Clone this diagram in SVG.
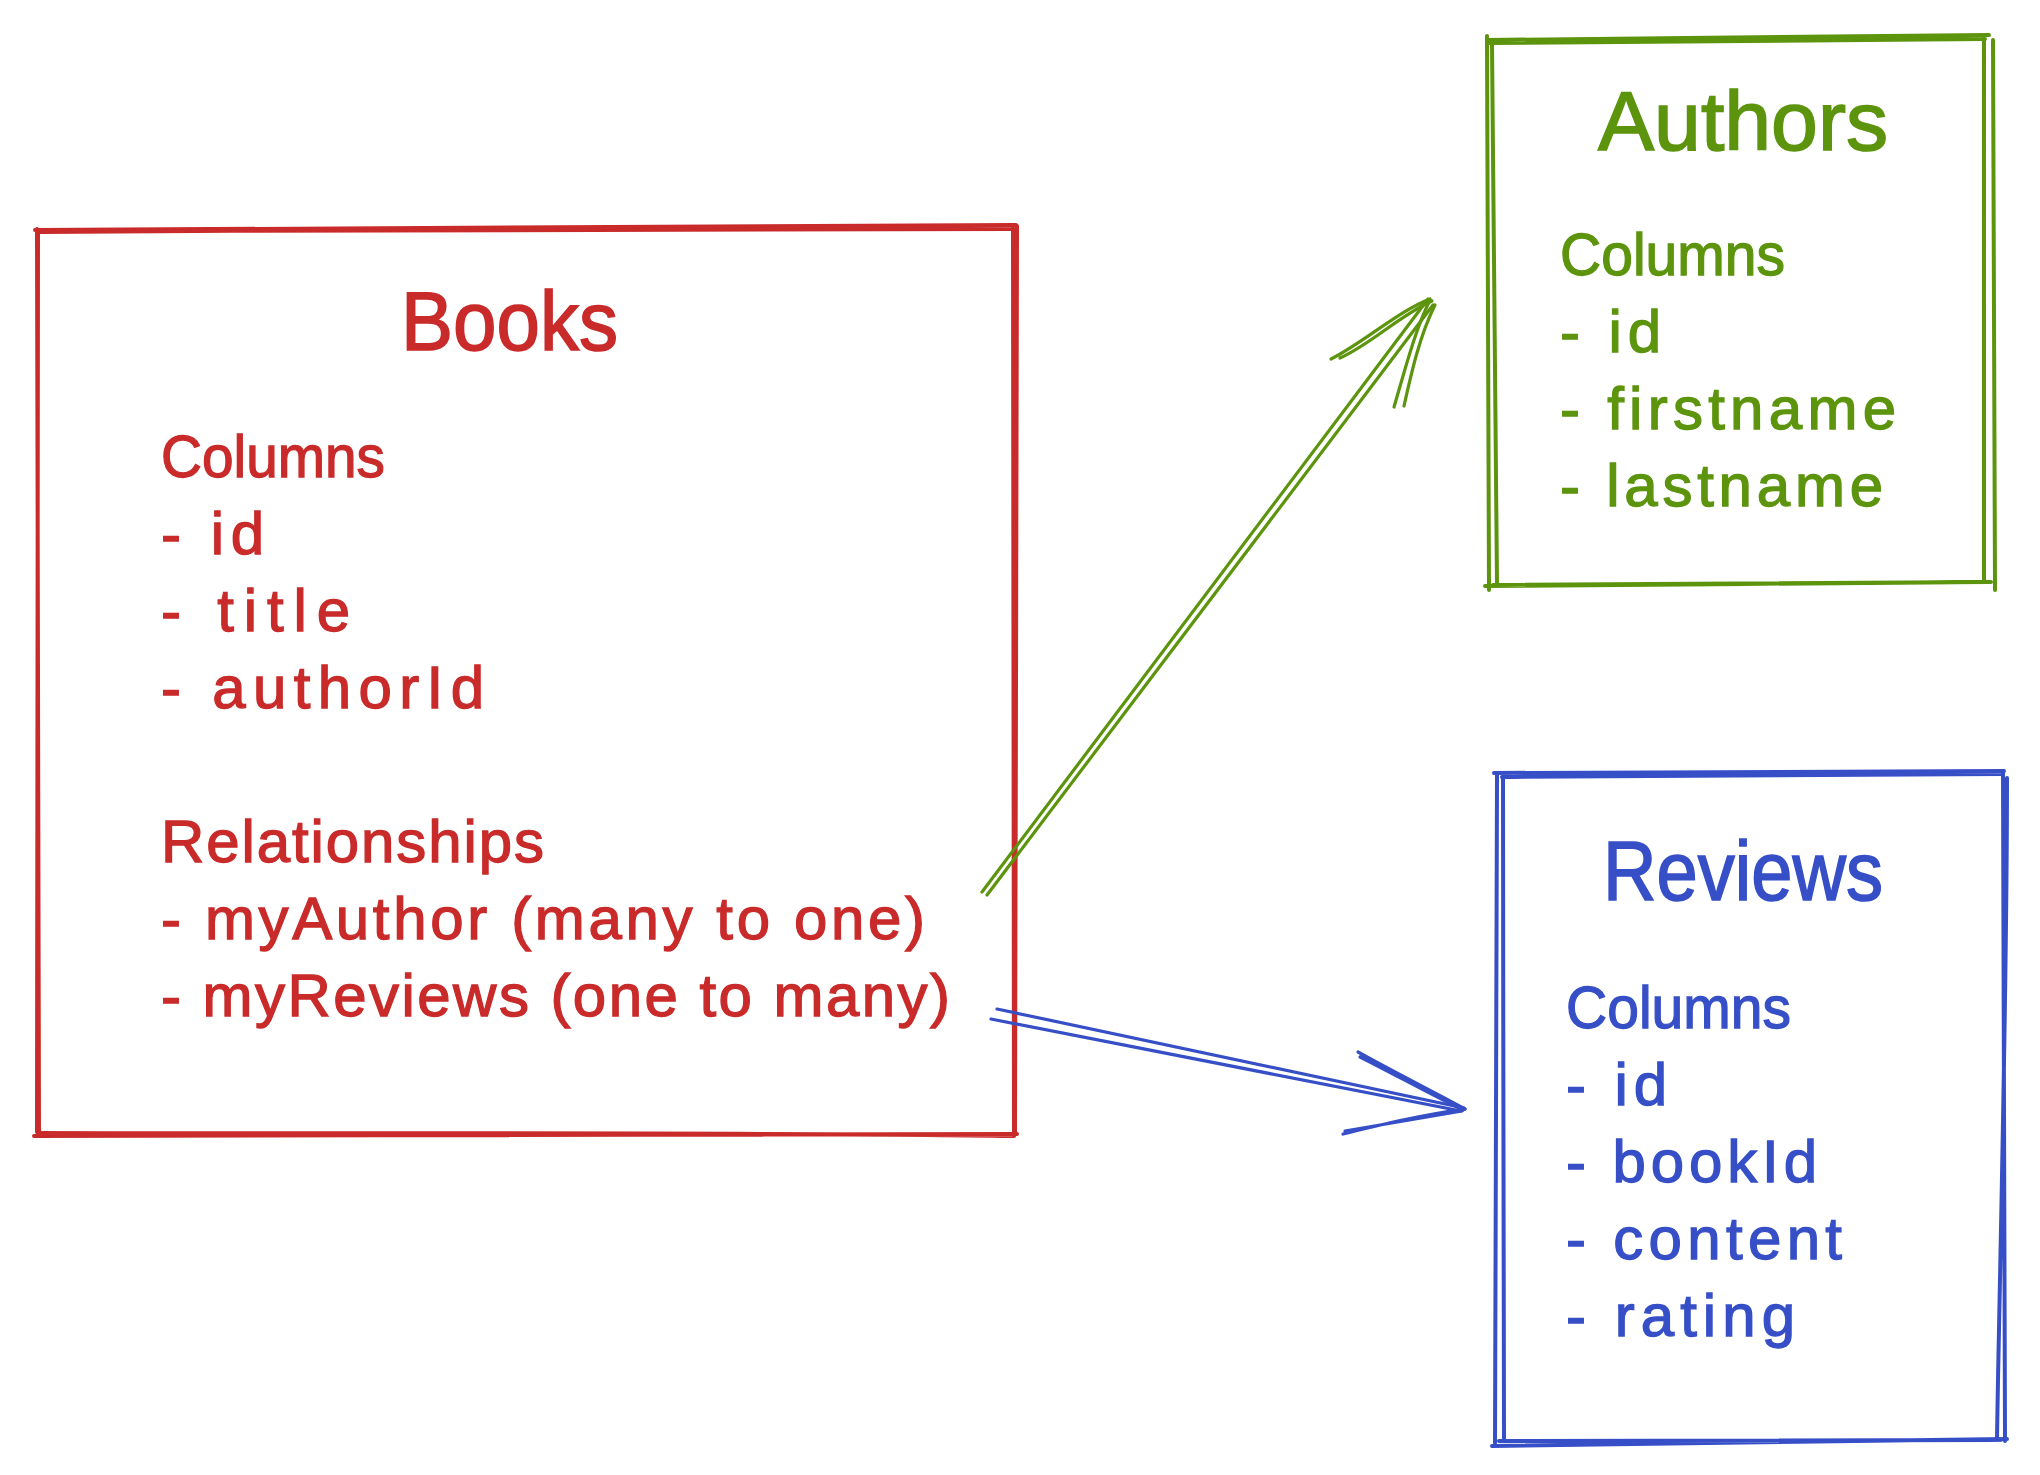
<svg xmlns="http://www.w3.org/2000/svg" width="2040" height="1475" viewBox="0 0 2040 1475">
<style>
  .bg { fill: #ffffff; }
  .edge { fill: none; stroke-linecap: round; stroke-linejoin: round; stroke-width: 4; }
  .conn { fill: none; stroke-linecap: round; stroke-linejoin: round; stroke-width: 3.2; }
  .txt { font-family: "Liberation Sans", Arial, sans-serif; font-size: 60px; stroke-width: 1.3; }
  .title { font-family: "Liberation Sans", Arial, sans-serif; font-size: 84px; stroke-width: 1.6; }
  .red { stroke: #c92a2a; }
  .redt { fill: #c92a2a; stroke: #c92a2a; }
  .green { stroke: #5c940d; }
  .greent { fill: #5c940d; stroke: #5c940d; }
  .blue { stroke: #364fc7; }
  .bluet { fill: #364fc7; stroke: #364fc7; }
</style>
<rect class="bg" x="0" y="0" width="2040" height="1475"/>

<g id="books">
  <path class="edge red" d="M35 230 L1016 225 M40 232 C400 229 800 231 1012 229"/>
  <path class="edge red" d="M37 229 L39 1136 M38 232 C37 600 38 900 37 1132"/>
  <path class="edge red" d="M1013 228 C1015 500 1012 800 1014 1136 M1017 226 C1018 600 1016 900 1015 1133"/>
  <path class="edge red" d="M34 1136 L1017 1134 M38 1133 C400 1134 800 1132 1013 1136"/>
  <text class="title redt" x="401" y="350" textLength="217" lengthAdjust="spacingAndGlyphs">Books</text>
  <text class="txt redt" x="161" y="477" textLength="224" lengthAdjust="spacingAndGlyphs">Columns</text>
  <text class="txt redt" x="161" y="554" textLength="103">- id</text>
  <text class="txt redt" x="161" y="631" textLength="189">- title</text>
  <text class="txt redt" x="161" y="708" textLength="323">- authorId</text>
  <text class="txt redt" x="161" y="862" textLength="383">Relationships</text>
  <text class="txt redt" x="161" y="939" textLength="764">- myAuthor (many to one)</text>
  <text class="txt redt" x="161" y="1016" textLength="789">- myReviews (one to many)</text>
</g>

<g id="authors">
  <path class="edge green" d="M1487 40 L1989 35 M1489 43 C1700 40 1900 39 1985 39"/>
  <path class="edge green" d="M1487 36 L1489 590 M1492 44 C1493 300 1495 500 1497 584"/>
  <path class="edge green" d="M1984 39 L1984 582 M1993 40 C1994 300 1993 500 1995 590"/>
  <path class="edge green" d="M1485 586 L1989 582 M1493 585 C1700 584 1900 583 1991 582"/>
  <text class="title greent" x="1598" y="150" textLength="290" lengthAdjust="spacingAndGlyphs">Authors</text>
  <text class="txt greent" x="1560" y="275" textLength="225" lengthAdjust="spacingAndGlyphs">Columns</text>
  <text class="txt greent" x="1560" y="352" textLength="101">- id</text>
  <text class="txt greent" x="1560" y="429" textLength="336">- firstname</text>
  <text class="txt greent" x="1560" y="506" textLength="323">- lastname</text>
</g>

<g id="reviews">
  <path class="edge blue" d="M1494 773 L2004 771 M1502 777 C1700 775 1900 774 2002 774"/>
  <path class="edge blue" d="M1497 775 L1495 1443 M1503 778 C1503 1000 1504 1300 1504 1439"/>
  <path class="edge blue" d="M2003 773 L2005 1441 M2007 778 C2007 1000 1999 1300 1997 1439"/>
  <path class="edge blue" d="M1492 1446 L2007 1439 M1499 1441 C1700 1441 1900 1440 2001 1440"/>
  <text class="title bluet" x="1603" y="900" textLength="280" lengthAdjust="spacingAndGlyphs">Reviews</text>
  <text class="txt bluet" x="1566" y="1028" textLength="225" lengthAdjust="spacingAndGlyphs">Columns</text>
  <text class="txt bluet" x="1566" y="1105" textLength="101">- id</text>
  <text class="txt bluet" x="1566" y="1182" textLength="251">- bookId</text>
  <text class="txt bluet" x="1566" y="1259" textLength="276">- content</text>
  <text class="txt bluet" x="1566" y="1336" textLength="229">- rating</text>
</g>

<g id="connectors">
  <path class="conn green" d="M982 892 L1428 299 M987 895 L1433 305"/>
  <path class="conn green" d="M1430 299 C1400 310 1360 345 1331 359 M1432 301 C1400 315 1370 345 1340 358"/>
  <path class="conn green" d="M1430 300 C1415 330 1405 370 1394 407 M1435 305 C1420 335 1412 370 1404 406"/>
  <path class="conn blue" d="M997 1009 L1464 1108 M991 1019 L1461 1111"/>
  <path class="conn blue" d="M1465 1109 C1430 1090 1390 1070 1358 1052 M1463 1110 C1430 1094 1390 1072 1360 1057"/>
  <path class="conn blue" d="M1465 1109 C1420 1115 1380 1125 1343 1134 M1462 1111 C1420 1118 1380 1125 1345 1131"/>
</g>
</svg>
